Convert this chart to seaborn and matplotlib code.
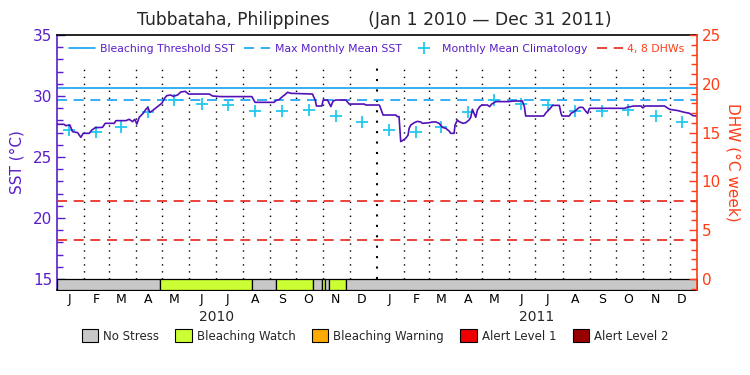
import numpy as np
import pandas as pd
import matplotlib
matplotlib.use("Agg")
import matplotlib.pyplot as plt
import matplotlib.dates as mdates
from matplotlib.lines import Line2D
from matplotlib.patches import Patch
from matplotlib.ticker import MultipleLocator, FuncFormatter
import seaborn as sns

# Daily SST (days since Jan 1 2010, deg C)
sst_day = [0, 8, 10, 14.7, 17.7, 23.4, 27.2, 29.9, 36.7, 39.8, 43.6, 51.9, 55, 65.3, 67.2,
           78.6, 82.4, 86.2, 88.8, 91.1, 93.8, 98.3, 101.4, 103.7, 105.9, 109, 114.7, 119.6,
           122.7, 125.3, 129.9, 132.6, 137.5, 141.3, 146.3, 150.1, 173.7, 177.5, 187,
           222.3, 225, 226, 247.7, 249.6, 253.4, 257.2, 261, 263, 266.8, 291.5, 294.6, 296.1,
           302.2, 303.7, 308.7, 312.5, 315.1, 318.2, 329.6, 333.4, 350.5, 352.4, 367.6,
           368.3, 371.3, 372.1, 386.5, 388.4, 390.3, 391.1, 392.2, 394.1, 397.9, 400.6, 401.8,
           403.7, 407.5, 411.3, 415.1, 417, 424.6, 428.4, 432.2, 436, 439.8, 443.6, 447.4,
           449.3, 453.1, 454.2, 456.9, 458.8, 463.3, 466.4, 470.2, 472.1, 474, 475.9, 477.8,
           479.7, 482.4, 484.6, 491.1, 493.7, 496, 498.7, 500.6, 515.8, 521.5, 531, 533.3,
           534.8, 552, 555.3, 558, 561.8, 565.6, 573.2, 575.1, 576.2, 584.6, 586.5, 590.3,
           596, 599.9, 603.7, 605.6, 607.5, 647.5, 650.5, 658.1, 666.5, 668.4, 671.1, 693.2,
           698.9, 708.5, 716.1, 721.8, 725.6, 729.4]
sst_val = [27.68, 27.68, 27.57, 27.62, 27.08, 27.0, 26.61, 26.94, 26.94, 27.21, 27.4, 27.43,
           27.76, 27.76, 27.98, 27.98, 28.09, 27.9, 28.09, 27.7, 28.25, 28.58, 28.91, 29.07,
           28.66, 28.8, 29.13, 29.4, 29.81, 30.03, 30.08, 29.97, 30.08, 30.33, 30.38, 30.16,
           30.16, 30.0, 29.95,
           29.95, 29.62, 29.48, 29.48, 29.62, 29.7, 29.95, 30.16, 30.3, 30.22, 30.16, 29.67,
           29.18, 29.18, 29.67, 29.67, 29.13, 29.59, 29.67, 29.67, 29.34, 29.34, 29.26, 29.26,
           29.18, 28.58, 28.44, 28.44, 28.31, 28.31, 27.49, 26.26, 26.34, 26.53, 26.8, 27.35,
           27.62, 27.81, 27.92, 27.87, 27.76, 27.81, 27.87, 27.87, 27.76, 27.43, 27.35, 27.13,
           26.94, 26.94, 27.62, 28.03, 27.9, 27.76, 27.81, 28.03, 28.25, 28.91, 28.58, 28.25,
           28.85, 29.13, 29.26, 29.26, 29.13, 29.34, 29.45, 29.54, 29.54, 29.59, 29.59, 29.13,
           28.36, 28.36, 28.36, 28.63, 28.91, 29.23, 29.23, 28.58, 28.36, 28.36, 28.58, 28.72,
           29.07, 29.07, 28.72, 28.58, 28.99, 28.99, 29.07, 29.18, 29.18, 29.02, 29.18, 29.18,
           28.91, 28.8, 28.66, 28.58, 28.39, 28.36]

# Monthly mean climatology (Jan..Dec)
clim_val = [27.24, 27.01, 27.49, 28.65, 29.65, 29.37, 29.26, 28.76, 28.8, 28.83, 28.38, 27.83]
mmm_sst = 29.65
threshold_sst = 30.65
dhw_levels = [4, 8]

# Stress level bar
stress_start = ["2010-01-01", "2010-04-29", "2010-08-11", "2010-09-08", "2010-10-20",
                "2010-10-30", "2010-11-03", "2010-11-07", "2010-11-27"]
stress_end = ["2010-04-29", "2010-08-11", "2010-09-08", "2010-10-20", "2010-10-30",
              "2010-11-03", "2010-11-07", "2010-11-27", "2012-01-01"]
stress_level = [0, 1, 0, 1, 0, 1, 0, 1, 0]

stress_names = ["No Stress", "Bleaching Watch", "Bleaching Warning", "Alert Level 1", "Alert Level 2"]
stress_colors = ["#c8c8c8", "#ccff33", "#ffaa00", "#ee0000", "#990000"]

purple = "#5a1ec8"
line_purple = "#5210b8"
blue = "#12a2f2"
cyan = "#22c8f0"
red_axis = "#ff3c14"
red_line = "#e8231a"

sns.set_theme(style="white")
plt.rcParams["font.family"] = ["DejaVu Sans"]

start = pd.Timestamp("2010-01-01")
end = pd.Timestamp("2012-01-01")
ybot = 14.1

fig = plt.figure(figsize=(7.5, 3.75), dpi=100)
ax = fig.add_axes([0.076, 0.2267, 0.853, 0.68])

# month boundary lines
bounds = pd.date_range("2010-02-01", "2011-12-01", freq="MS")
for b in bounds:
    lw = 1.5 if b.month == 1 else 1.0
    ax.plot([b, b], [15, 32.6], color="black", lw=lw, ls=(0, (1, 4)), zorder=1)

ax.axhline(threshold_sst, color=blue, lw=1.2, zorder=2)
ax.axhline(mmm_sst, color=blue, lw=1.2, ls=(0, (6, 4)), zorder=2)

dates = start + pd.to_timedelta(sst_day, unit="D")
sns.lineplot(x=dates, y=sst_val, ax=ax, color=line_purple, lw=1.2, estimator=None,
             sort=False, zorder=4)

clim_dates = pd.date_range("2010-01-01", periods=24, freq="MS") + pd.Timedelta(days=14)
ax.plot(clim_dates, clim_val * 2, ls="none", marker="+", ms=9, mew=1.3, color=cyan, zorder=3)

# stress bar
for s, e, lev in zip(stress_start, stress_end, stress_level):
    x0 = mdates.date2num(pd.Timestamp(s))
    x1 = mdates.date2num(pd.Timestamp(e))
    ax.broken_barh([(x0, x1 - x0)], (ybot, 15 - ybot), facecolors=stress_colors[lev],
                   edgecolor="black", lw=0.9, zorder=5)

ax.set_xlim(start, end)
ax.set_ylim(ybot, 35)
ax.yaxis.set_major_locator(MultipleLocator(5))
ax.yaxis.set_minor_locator(MultipleLocator(1))
ax.tick_params(axis="y", which="both", direction="in", colors=purple, labelsize=11)
ax.tick_params(axis="y", which="major", length=6, width=1)
ax.tick_params(axis="y", which="minor", length=4, width=1)
ax.set_ylabel("SST (°C)", color=purple, fontsize=11, labelpad=6)

ax.xaxis.set_major_locator(mdates.MonthLocator(bymonthday=15))
ax.xaxis.set_major_formatter(FuncFormatter(lambda x, p: mdates.num2date(x).strftime("%b")[0]))
ax.tick_params(axis="x", length=0, pad=2.5, labelsize=9, colors="black")
ax.set_xlabel("")

for yr in [2010, 2011]:
    ax.text(pd.Timestamp(f"{yr}-07-02"), -0.08, str(yr), transform=ax.get_xaxis_transform(),
            ha="center", va="top", fontsize=10)

for side in ["top", "bottom"]:
    ax.spines[side].set_color("black")
ax.spines["left"].set_color(purple)
ax.spines["right"].set_visible(False)
for sp in ax.spines.values():
    sp.set_linewidth(1.2)

ax2 = ax.twinx()
ax2.set_ylim((ybot - 15) * 1.25, 25)
for d in dhw_levels:
    ax2.axhline(d, color=red_line, lw=1.2, ls=(0, (6, 4)))
ax2.yaxis.set_major_locator(MultipleLocator(5))
ax2.yaxis.set_minor_locator(MultipleLocator(1))
ax2.tick_params(axis="y", which="both", direction="in", colors=red_axis, labelsize=11)
ax2.tick_params(axis="y", which="major", length=6, width=1)
ax2.tick_params(axis="y", which="minor", length=4, width=1)
ax2.set_ylabel("DHW (°C week)", color=red_axis, fontsize=11, rotation=270, labelpad=14)
ax2.spines["right"].set_color(red_axis)
ax2.spines["right"].set_linewidth(1.2)
ax2.spines["left"].set_visible(False)
ax2.spines["top"].set_visible(False)
ax2.spines["bottom"].set_visible(False)

handles = [
    Line2D([], [], color=blue, lw=1.2, label="Bleaching Threshold SST"),
    Line2D([], [], color=blue, lw=1.2, ls=(0, (6, 4)), label="Max Monthly Mean SST"),
    Line2D([], [], color=cyan, ls="none", marker="+", ms=8, mew=1.3, label="Monthly Mean Climatology"),
    Line2D([], [], color=red_line, lw=1.2, ls=(0, (6, 4)), label="4, 8 DHWs"),
]
ax2.legend(handles=handles, loc="upper center", bbox_to_anchor=(0.5, 1.0), ncol=4,
           frameon=False, fontsize=7.8, handlelength=2.4, handletextpad=0.4, columnspacing=0.9,
           labelcolor=[purple, purple, purple, red_axis], borderaxespad=0.4)

patches = [Patch(facecolor=c, edgecolor="black", lw=0.8, label=n)
           for n, c in zip(stress_names, stress_colors)]
fig.legend(handles=patches, loc="center", bbox_to_anchor=(0.5, 0.104), ncol=5, frameon=False,
           fontsize=8.5, handlelength=1.4, handleheight=1.2, handletextpad=0.4, columnspacing=1.4)

fig.text(0.499, 0.947, "Tubbataha, Philippines       (Jan 1 2010 \u2014 Dec 31 2011)",
         ha="center", va="center", fontsize=12.3)

fig.savefig("out.png", dpi=100)
